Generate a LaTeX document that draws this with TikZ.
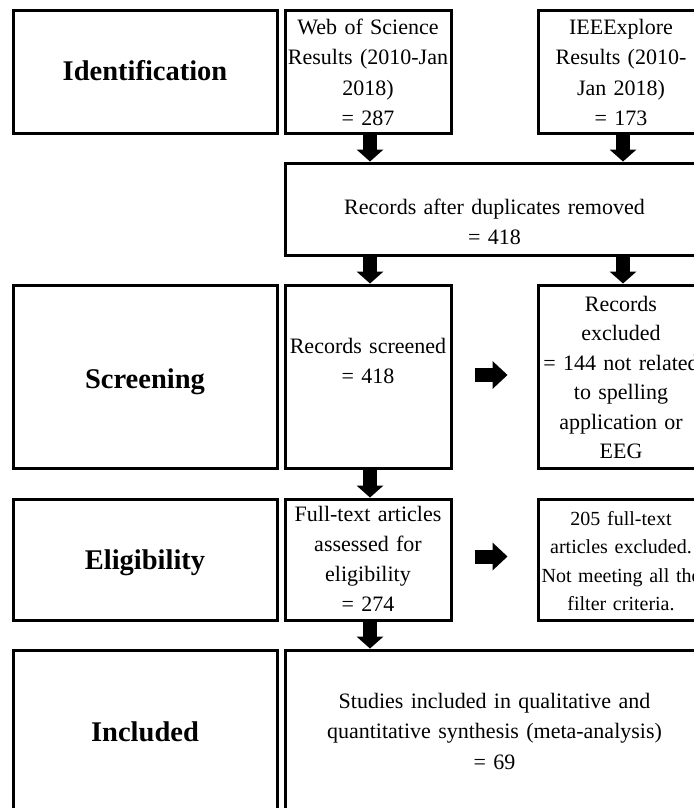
\documentclass[tikz,border=0pt]{standalone}
\usepackage{fontspec}
\setmainfont{Liberation Serif}
\usetikzlibrary{arrows.meta}
\begin{document}
\begin{tikzpicture}[x=1pt,y=-1pt]
\tikzset{
  box/.style={draw, line width=3pt, inner sep=0pt},
  txt/.style={text width=460pt, align=center, inner sep=0pt, anchor=base,
              font=\fontsize{22}{30}\selectfont},
  lbl/.style={inner sep=0pt, anchor=base, font=\bfseries\fontsize{28.5}{30}\selectfont},
  vflow/.style={line width=14pt, -{Triangle[width=27pt,length=12pt,line width=0pt]}},
  hflow/.style={line width=14pt, -{Triangle[width=28pt,length=15pt,line width=0pt]}},
}
\useasboundingbox (0,0) rectangle (693,808);
% boxes
\node[box, minimum width=264pt, minimum height=122pt] (ident) at (145,72) {};
\node[box, minimum width=166pt, minimum height=122pt] (wos) at (368,72) {};
\node[box, minimum width=166pt, minimum height=122pt] (ieee) at (621,72) {};
\node[box, minimum width=419pt, minimum height=92pt] (dup) at (494.5,209) {};
\node[box, minimum width=264pt, minimum height=183pt] (scrL) at (145,376.5) {};
\node[box, minimum width=166pt, minimum height=183pt] (scr) at (368,376.5) {};
\node[box, minimum width=166pt, minimum height=183pt] (exc) at (621,376.5) {};
\node[box, minimum width=264pt, minimum height=121pt] (eligL) at (145,559.5) {};
\node[box, minimum width=166pt, minimum height=121pt] (full) at (368,559.5) {};
\node[box, minimum width=166pt, minimum height=121pt] (exc2) at (621,559.5) {};
\node[box, minimum width=264pt, minimum height=165pt] (inclL) at (145,732.5) {};
\node[box, minimum width=419pt, minimum height=165pt] (stud) at (494.5,732.5) {};
% labels
\node[lbl] (identT) at (145,81) {Identification};
\node[lbl] (scrLT) at (145,388) {Screening};
\node[lbl] (eligLT) at (145,569) {Eligibility};
\node[lbl] (inclLT) at (145,741) {Included};
% texts
\node[txt] (wosT) at (368,35) {Web of Science\\Results (2010-Jan\\2018)\\= 287};
\node[txt] (ieeeT) at (621,35) {IEEExplore\\Results (2010-\\Jan 2018)\\= 173};
\node[txt] (dupT) at (494.5,214) {Records after duplicates removed\\= 418};
\node[txt] (scrT) at (368,353) {Records screened\\= 418};
\node[txt, font=\fontsize{22}{29.5}\selectfont] (excT) at (621,311)
  {Records\\excluded\\= 144 not related\\to spelling\\application or\\EEG};
\node[txt] (fullT) at (368,521.7) {Full-text articles\\assessed for\\eligibility\\= 274};
\node[txt, font=\fontsize{20}{28.5}\selectfont] (exc2T) at (621,525)
  {205 full-text\\articles excluded.\\Not meeting all the\\filter criteria.};
\node[txt, font=\fontsize{22}{30.5}\selectfont] (studT) at (494.5,708)
  {Studies included in qualitative and\\quantitative synthesis (meta-analysis)\\= 69};
% connectors
\draw[vflow] ([xshift=2pt]wos.south) -- ([xshift=2pt]wos.south |- dup.north);
\draw[vflow] ([xshift=2pt]ieee.south) -- ([xshift=2pt]ieee.south |- dup.north);
\draw[vflow] ([xshift=2pt]scr.north |- dup.south) -- ([xshift=2pt]scr.north);
\draw[vflow] ([xshift=2pt]exc.north |- dup.south) -- ([xshift=2pt]exc.north);
\draw[vflow] ([xshift=2pt]scr.south) -- ([xshift=2pt]full.north);
\draw[vflow] ([xshift=2pt]full.south) -- ([xshift=2pt]full.south |- stud.north);
\draw[hflow, shorten <=22pt, shorten >=29pt] ([yshift=1.5pt]scr.east) -- ([yshift=1.5pt]exc.west);
\draw[hflow, shorten <=22pt, shorten >=29pt] ([yshift=3pt]full.east) -- ([yshift=3pt]exc2.west);
\end{tikzpicture}
\end{document}
